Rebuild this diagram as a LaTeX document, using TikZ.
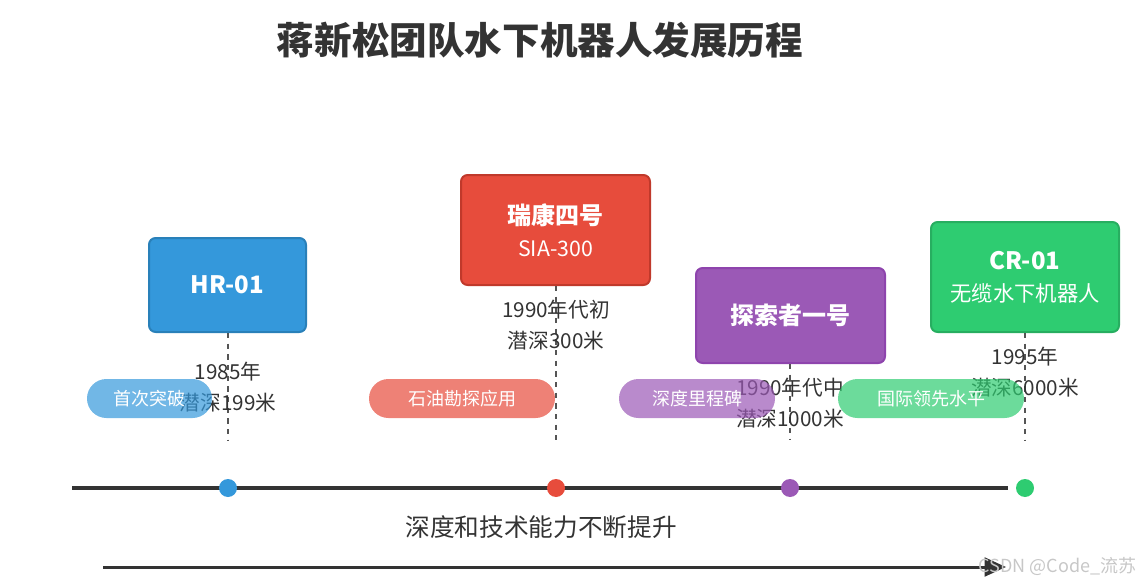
\documentclass[tikz,border=0pt]{standalone}
\usepackage{fontspec}
\setmainfont{Noto Sans CJK SC}
\usetikzlibrary{arrows.meta}
\definecolor{ink}{HTML}{333333}
\definecolor{guide}{HTML}{555555}
\definecolor{hrblue}{HTML}{3498DB}\definecolor{hrblueD}{HTML}{2980B9}
\definecolor{rkred}{HTML}{E74C3C}\definecolor{rkredD}{HTML}{C0392B}
\definecolor{tszpurple}{HTML}{9B59B6}\definecolor{tszpurpleD}{HTML}{8E44AD}
\definecolor{crgreen}{HTML}{2ECC71}\definecolor{crgreenD}{HTML}{27AE60}
\begin{document}
\begin{tikzpicture}[x=.75pt,y=-.75pt,
    robot/.style={draw,line width=1.5pt,rounded corners=5pt,text=white,align=center,
      font=\fontsize{16}{24}\selectfont,minimum width=141.75pt},
    datelbl/.style={text=ink,align=center,font=\fontsize{15.5}{23}\selectfont},
    pill/.style={fill opacity=.7,text opacity=1,text=white,rounded corners=14.6pt,
      minimum height=29.25pt,inner sep=0pt,font=\fontsize{13.5}{16}\selectfont},
    guideline/.style={guide,line width=1.2pt,dash pattern=on 4pt off 4pt},
    dot/.style={circle,inner sep=0pt,minimum size=13.5pt}]
  \useasboundingbox (0,0) rectangle (1147,585);
  \node[text=ink,font=\bfseries\fontsize{28.2}{32}\selectfont] (title) at (540,40) {蒋新松团队水下机器人发展历程};
  % robots
  \node[robot,fill=hrblue,draw=hrblueD,minimum width=117.75pt,minimum height=70.5pt] (hr) at (227.5,285) {\bfseries\fontsize{18}{24}\selectfont HR-01};
  \node[robot,fill=rkred,draw=rkredD,minimum height=82.5pt] (rk) at (555.5,230) {{\bfseries\fontsize{18}{24}\selectfont 瑞康四号}\\SIA-300};
  \node[robot,fill=tszpurple,draw=tszpurpleD,minimum height=71.25pt] (tsz) at (790.5,315.5) {\bfseries\fontsize{18}{24}\selectfont 探索者一号};
  \node[robot,fill=crgreen,draw=crgreenD,minimum width=141pt,minimum height=82.5pt] (cr) at (1025,277) {{\bfseries\fontsize{18}{24}\selectfont CR-01}\\无缆水下机器人};
  \coordinate (hrend) at (228,440); \coordinate (rkend) at (556,440);
  \coordinate (tszend) at (790,440); \coordinate (crend) at (1025,440);
  \draw[guideline] (hr.south -| hrend) -- (hrend);
  \draw[guideline] (rk.south -| rkend) -- (rkend);
  \draw[guideline] (tsz.south -| tszend) -- (tszend);
  \draw[guideline] (cr.south -| crend) -- (crend);
  % dates
  \node[datelbl] (hrdate) at (228,387) {1985年\\潜深199米};
  \node[datelbl] (rkdate) at (556,325) {1990年代初\\潜深300米};
  \node[datelbl] (tszdate) at (790,403) {1990年代中\\潜深1000米};
  \node[datelbl] (crdate) at (1025,372) {1995年\\潜深6000米};
  % tags
  \node[pill,fill=hrblue,minimum width=93.75pt] (hrtag) at (149.5,398.5) {首次突破};
  \node[pill,fill=rkred,minimum width=139.5pt] (rktag) at (462,398.5) {石油勘探应用};
  \node[pill,fill=tszpurple,minimum width=117pt] (tsztag) at (697,398.5) {深度里程碑};
  \node[pill,fill=crgreen,minimum width=139.5pt] (crtag) at (931,398.5) {国际领先水平};
  % timeline
  \coordinate (tlstart) at (72,488); \coordinate (tlend) at (1008,488);
  \draw[ink,line width=3pt] (tlstart) -- (tlend);
  \node[dot,fill=hrblue] (hrdot) at (228,488) {};
  \node[dot,fill=rkred] (rkdot) at (556,488) {};
  \node[dot,fill=tszpurple] (tszdot) at (790,488) {};
  \node[dot,fill=crgreen] (crdot) at (1025,488) {};
  \node[text=ink,font=\fontsize{18.5}{22}\selectfont] (trend) at (541,527) {深度和技术能力不断提升};
  \coordinate (arrstart) at (103,567); \coordinate (arrend) at (1006,567);
  \draw[ink,line width=2.25pt,-{Triangle[length=16pt,width=14pt]}] (arrstart) -- (arrend);
  \node[anchor=east,text=black!22,font=\fontsize{13.5}{16}\selectfont] (mark) at (1141,566) {CSDN @Code\_流苏};
\end{tikzpicture}
\end{document}
